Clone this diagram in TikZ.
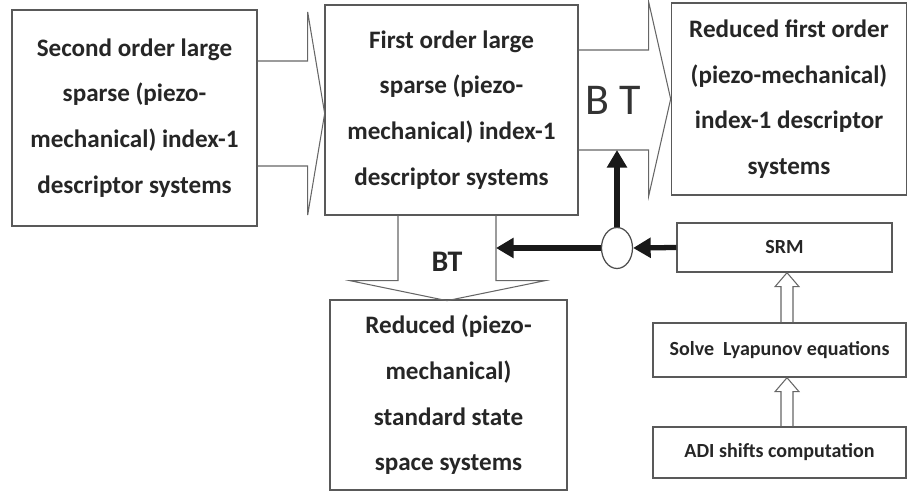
\documentclass[tikz,border=0pt]{standalone}
\usepackage{fontspec}
\setmainfont{Carlito}
\usepackage{tikz}
\usetikzlibrary{shapes, arrows.meta, positioning, calc}
\newcommand{\bigtext}{\fontsize{14.3}{26}\selectfont\bfseries}
\newcommand{\smalltext}{\fontsize{11.4}{14}\selectfont\bfseries}

\begin{document}
\begin{tikzpicture}
  [
    x=0.02cm, y=-0.02cm,
    Box/.style={rectangle, draw=black!65, line width=0.8pt, align=center, text=black!85, inner sep=0pt, font=\bigtext},
    Small/.style={rectangle, draw=black!65, line width=0.8pt, text=black!85, inner sep=0pt, font=\smalltext},
    Block/.style={draw=black!60, line width=0.6pt},
    Hollow/.style={draw=black!60, line width=0.6pt},
    Thick/.style={draw=black!90, line width=3pt, -{Triangle[length=10pt, width=11pt]}},
    Round/.style={ellipse, draw=black!70, line width=0.7pt, fill=white, minimum width=0.62cm, minimum height=0.82cm, inner sep=0pt}
  ]
  \useasboundingbox (0,0) rectangle (910,492);
  % Nodes
  \node[Box, minimum width=4.9cm, minimum height=4.32cm] (second) at (134.5,118)
    {Second order large\\sparse (piezo-\\mechanical) index-1\\descriptor systems};
  \node[Box, minimum width=5.06cm, minimum height=4.2cm] (first) at (451.5,110)
    {First order large\\sparse (piezo-\\mechanical) index-1\\descriptor systems};
  \node[Box, minimum width=4.7cm, minimum height=3.84cm] (redfirst) at (789,99)
    {Reduced first order\\(piezo-mechanical)\\index-1 descriptor\\systems};
  \node[Box, minimum width=4.74cm, minimum height=3.8cm] (redstd) at (448.5,395)
    {Reduced (piezo-\\mechanical)\\standard state\\space systems};
  \node[Small, minimum width=4.3cm, minimum height=0.98cm] (srm) at (784.5,247.5) {SRM};
  \node[Small, minimum width=5.06cm, minimum height=1.08cm] (lyap) at (779.5,350) {Solve\ \ Lyapunov equations};
  \node[Small, minimum width=5.06cm, minimum height=1.02cm] (adi) at (779.5,452.5) {ADI shifts computation};
  \node[Round] (junction) at (617,248) {};
  % Block arrows
  \draw[Block] ($(second.east)+(0,-57)$) -- ++(50,0) -- ++(0,-49) -- ++(17,101.5)
    -- ++(-17,101.5) -- ++(0,-49) -- ++(-50,0);
  \draw[Block] ($(first.east)+(0,-60)$) -- ++(70,0) -- ++(0,-48) -- ++(22,97)
    -- ++(-22,97) -- ++(0,-46) -- ++(-70,0) coordinate (rbody);
  \draw[Block] ($(first.south)+(-53.5,0)$) -- ++(0,65) -- ++(-48,0) -- ++(97,20)
    -- ++(98,-20) -- ++(-49,0) coordinate (dbody) -- ++(0,-65);
  \node[font=\fontsize{25}{30}\selectfont, text=black!80] (btright) at (613,100) {B T};
  \node[font=\fontsize{17}{20}\selectfont\bfseries, text=black!85] (btdown) at (447,262) {BT};
  % Lines
  \draw[Thick] (srm.west) -- (junction.east);
  \draw[Thick] (junction.west) -- (junction.west -| dbody);
  \draw[Thick] (junction.north) -- (junction.north |- rbody);
  \coordinate (shaft) at ($(lyap.north)+(7.5,0)$);
  \foreach \src/\dst in {lyap/srm, adi/lyap}
    \draw[Hollow] ($(shaft |- \src.north)+(-6,0)$) -- ($(shaft |- \dst.south)+(-6,14)$) -- ++(-6,0)
      -- (shaft |- \dst.south) -- ++(12,14) -- ++(-6,0) -- ($(shaft |- \src.north)+(6,0)$);
\end{tikzpicture}
\end{document}
